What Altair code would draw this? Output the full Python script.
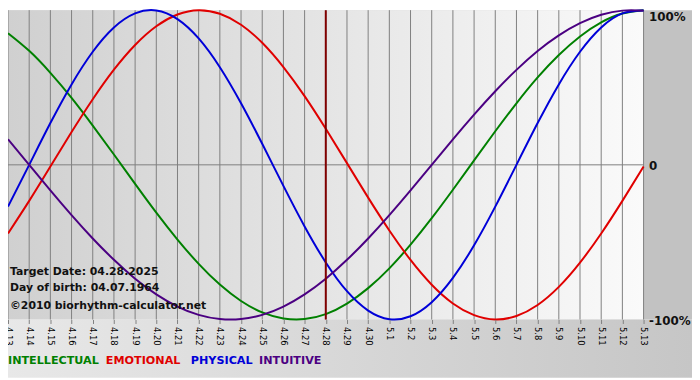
import altair as alt
import pandas as pd

# ---- data ----
dates = ["4.13", "4.14", "4.15", "4.16", "4.17", "4.18", "4.19", "4.20", "4.21", "4.22",
         "4.23", "4.24", "4.25", "4.26", "4.27", "4.28", "4.29", "4.30", "5.1", "5.2",
         "5.3", "5.4", "5.5", "5.6", "5.7", "5.8", "5.9", "5.10", "5.11", "5.12", "5.13"]

intellectual = [85.1, 73.7, 59.5, 43.3, 25.4, 6.7, -12.3, -30.9, -48.3, -64.0, -77.4,
                -88.0, -95.4, -99.3, -99.7, -96.5, -89.7, -79.7, -66.9, -51.6, -34.5,
                -16.1, 2.9, 21.7, 39.8, 56.5, 71.0, 83.0, 92.1, 97.8, 100.0]
emotional = [-44.4, -23.3, -1.1, 21.2, 42.4, 61.5, 77.5, 89.6, 97.2, 100.0, 97.7,
             90.6, 78.9, 63.2, 44.4, 23.3, 1.1, -21.2, -42.4, -61.5, -77.5,
             -89.6, -97.2, -100.0, -97.7, -90.6, -78.9, -63.2, -44.4, -23.3, -1.1]
physical = [-27.0, 0.0, 27.0, 52.0, 73.1, 88.8, 97.9, 99.8, 94.2, 81.7, 63.1,
            39.8, 13.6, -13.6, -39.8, -63.1, -81.7, -94.2, -99.8, -97.9, -88.8,
            -73.1, -52.0, -27.0, 0.0, 27.0, 52.0, 73.1, 88.8, 97.9, 99.8]
intuitive = [16.5, 0.0, -16.5, -32.5, -47.6, -61.4, -73.6, -83.7, -91.6, -97.0, -99.7,
             -99.7, -97.0, -91.6, -83.7, -73.6, -61.4, -47.6, -32.5, -16.5, 0.0,
             16.5, 32.5, 47.6, 61.4, 73.6, 83.7, 91.6, 97.0, 99.7, 99.7]

series_names = ["INTELLECTUAL", "EMOTIONAL", "PHYSICAL", "INTUITIVE"]
series_colors = ["#008000", "#e00000", "#0000d8", "#4b0082"]
y_ticks = [-100, 0, 100]
target_date = "4.28"
notes = ["Target Date: 04.28.2025", "Day of birth: 04.07.1964", "\u00a92010 biorhythm-calculator.net"]

# ---- build table ----
rows = []
for name, vals in zip(series_names, [intellectual, emotional, physical, intuitive]):
    for d, v in zip(dates, vals):
        rows.append({"date": d, "value": v, "series": name})
df = pd.DataFrame(rows)

W, H = 643, 313
PR, PB = 49, 59
FONT = "DejaVu Sans"

x_axis = alt.Axis(title=None, labelAngle=90, labelAlign="left", labelBaseline="middle",
                  labelFont=FONT, labelFontSize=8.5, labelColor="#000000", labelPadding=3,
                  ticks=True, tickSize=4, tickColor="#808080", domain=False, grid=False,
                  zindex=1, labelOverlap=False)
y_axis = alt.Axis(title=None, orient="right", values=y_ticks,
                  labelExpr="datum.value == 0 ? '0' : datum.value + '%'",
                  labelFont=FONT, labelFontSize=12, labelFontWeight="bold",
                  labelColor="#111111", labelPadding=5,
                  labelBaseline={"condition": {"test": "datum.value == 100", "value": "top"},
                                 "value": "middle"},
                  labelOffset={"condition": {"test": "datum.value == 100", "value": 1},
                               "value": 1},
                  ticks=False, domain=False, grid=False, zindex=1)

x_enc = alt.X("date:O", sort=dates, scale=alt.Scale(type="point", padding=0), axis=x_axis)
y_scale = alt.Scale(domain=[-100, 100], nice=False, zero=False)

one = pd.DataFrame({"k": [0]})

def hgrad(c0, c1):
    return alt.Gradient(gradient="linear", x1=0, x2=1, y1=0, y2=0,
                        stops=[alt.GradientStop(color=c0, offset=0),
                               alt.GradientStop(color=c1, offset=1)])

plot_bg = alt.Chart(one).mark_rect(fill=hgrad("#d0d0d0", "#fafafa")).encode(
    x=alt.value(0), x2=alt.value(W), y=alt.value(0), y2=alt.value(H))
bottom_bg = alt.Chart(one).mark_rect(fill=hgrad("#e8e8e8", "#c6c6c6")).encode(
    x=alt.value(0), x2=alt.value(W + PR), y=alt.value(H), y2=alt.value(H + PB))
right_bg = alt.Chart(one).mark_rect(fill="#c2c2c2").encode(
    x=alt.value(W), x2=alt.value(W + PR), y=alt.value(0), y2=alt.value(H))

grid = alt.Chart(pd.DataFrame({"date": dates})).mark_rule(color="#808080", strokeWidth=1).encode(
    x=x_enc)
zero = alt.Chart(pd.DataFrame({"value": [0]})).mark_rule(color="#808080", strokeWidth=1).encode(
    y=alt.Y("value:Q", scale=y_scale, axis=y_axis))

lines = alt.Chart(df).mark_line(strokeWidth=2, interpolate="natural").encode(
    x=x_enc,
    y=alt.Y("value:Q", scale=y_scale, axis=y_axis),
    color=alt.Color("series:N", scale=alt.Scale(domain=series_names, range=series_colors), legend=None),
)

target = alt.Chart(pd.DataFrame({"date": [target_date]})).mark_rule(color="#800000", strokeWidth=2).encode(
    x=x_enc)

note_layers = []
for txt, yy in zip(notes, [268, 284, 302]):
    note_layers.append(alt.Chart(one).mark_text(align="left", baseline="alphabetic", font=FONT,
                                                fontSize=11, fontWeight="bold", color="#111111").encode(
        x=alt.value(2), y=alt.value(yy), text=alt.value(txt)))

legend_layers = []
for name, col, xx in zip(series_names, series_colors, [0, 99, 185, 254]):
    legend_layers.append(alt.Chart(one).mark_text(align="left", baseline="alphabetic", font=FONT,
                                                  fontSize=11.3, fontWeight="bold", color=col).encode(
        x=alt.value(xx), y=alt.value(H + 45), text=alt.value(name)))

chart = alt.layer(plot_bg, bottom_bg, right_bg, grid, zero, lines, target,
                  *note_layers, *legend_layers).properties(
    width=W, height=H,
    autosize=alt.AutoSizeParams(type="none"),
    padding={"left": 0, "top": 0, "right": PR, "bottom": PB},
).configure_view(stroke="#808080", strokeWidth=1).configure(background="white")

chart.save("out.html", embed_options={"renderer": "svg", "actions": False})
